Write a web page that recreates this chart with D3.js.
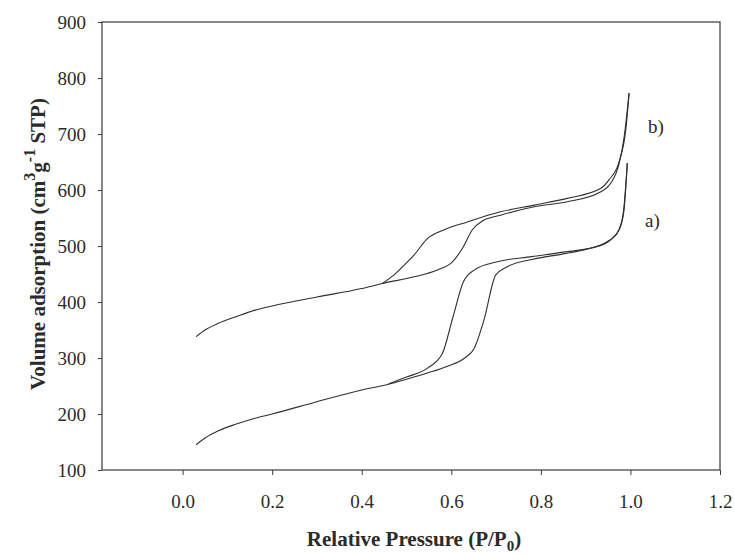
<!DOCTYPE html>
<html>
<head>
<meta charset="utf-8">
<script src="https://cdn.jsdelivr.net/npm/d3@7"></script>
<style>
  body { margin: 0; background: #fff; }
  text { font-family: "Liberation Serif", "Times New Roman", serif; fill: #2b2b2b; }
</style>
</head>
<body>
<svg id="chart" width="734" height="553"></svg>
<script>
// sample a) adsorption / desorption branches
var aAdsP = [0.03,0.05,0.08,0.12,0.16,0.2,0.3,0.4,0.46,0.5,0.55,0.59,0.63,0.651,0.673,0.699,0.725,0.78,0.85,0.9,0.949,0.974,0.985,0.993];
var aAdsV = [145,157,170,182,192,200,222,243,253,262,274,285,300,317,368,448,463,476,486,494,508,528,560,648];
var aDesP = [0.46,0.5,0.547,0.58,0.603,0.627,0.651,0.703,0.78,0.85,0.926,0.956,0.975,0.985,0.993];
var aDesV = [254,266,282,308,371,436,457,472,481,489,499,511,530,565,648];

// sample b)
var bAdsP = [0.03,0.05,0.08,0.12,0.16,0.2,0.3,0.4,0.446,0.517,0.569,0.603,0.625,0.647,0.67,0.71,0.785,0.859,0.934,0.956,0.975,0.986,0.997];
var bAdsV = [338,350,362,374,385,393,409,424,433,445,457,472,496,529,545,555,570,579,597,612,648,695,773];
var bDesP = [0.446,0.47,0.495,0.517,0.545,0.584,0.636,0.71,0.785,0.859,0.934,0.952,0.975,0.99,0.997];
var bDesV = [433,447,466,484,512,529,543,561,573,585,603,618,651,710,773];

var xTicks = [0, 0.2, 0.4, 0.6, 0.8, 1.0, 1.2];
var yTicks = [100, 200, 300, 400, 500, 600, 700, 800, 900];

var svg = d3.select("#chart");
var pLeft = 102, pRight = 720, pTop = 22, pBottom = 470;

var x = d3.scaleLinear().domain([-0.18, 1.2]).range([pLeft, pRight]);
var y = d3.scaleLinear().domain([100, 900]).range([pBottom, pTop]);

// frame
svg.append("rect")
    .attr("x", pLeft).attr("y", pTop)
    .attr("width", pRight - pLeft).attr("height", pBottom - pTop)
    .attr("fill", "none").attr("stroke", "#3a3a3a").attr("stroke-width", 1.2);

var xAxis = svg.append("g")
    .attr("transform", "translate(0," + pBottom + ")")
    .call(d3.axisBottom(x).tickValues(xTicks).tickFormat(d3.format(".1f")).tickSize(5).tickSizeOuter(0));
xAxis.select(".domain").remove();
xAxis.selectAll("line").attr("stroke", "#3a3a3a");
xAxis.selectAll("text")
    .attr("y", 38).attr("dy", null)
    .attr("font-size", 19)
    .attr("fill", "#2b2b2b");

var yAxis = svg.append("g")
    .attr("transform", "translate(" + pLeft + ",0)")
    .call(d3.axisLeft(y).tickValues(yTicks).tickSize(4).tickSizeOuter(0));
yAxis.select(".domain").remove();
yAxis.selectAll("line").attr("stroke", "#3a3a3a");
yAxis.selectAll("text")
    .attr("x", -16).attr("dy", "0.34em")
    .attr("font-size", 19)
    .attr("fill", "#2b2b2b");

var line = d3.line()
    .curve(d3.curveMonotoneX)
    .x(function(d) { return x(d[0]); })
    .y(function(d) { return y(d[1]); });

var branches = [[aAdsP, aAdsV], [aDesP, aDesV], [bAdsP, bAdsV], [bDesP, bDesV]];
branches.forEach(function(b) {
    var pts = b[0].map(function(p, i) { return [p, b[1][i]]; });
    svg.append("path")
        .datum(pts)
        .attr("d", line)
        .attr("fill", "none")
        .attr("stroke", "#2f2f2f")
        .attr("stroke-width", 1.1)
        .attr("stroke-linejoin", "round");
});

// sample labels
svg.append("text").attr("x", 648).attr("y", 133).attr("font-size", 19).text("b)");
svg.append("text").attr("x", 645).attr("y", 227).attr("font-size", 19).text("a)");

// axis titles
var xt = svg.append("text")
    .attr("x", 414).attr("y", 546)
    .attr("text-anchor", "middle")
    .attr("font-size", 21).attr("font-weight", "bold");
xt.append("tspan").text("Relative Pressure (P/P");
xt.append("tspan").attr("font-size", 15).attr("dy", 5).text("0");
xt.append("tspan").attr("dy", -5).text(")");

var yt = svg.append("text")
    .attr("transform", "translate(45,244) rotate(-90)")
    .attr("text-anchor", "middle")
    .attr("font-size", 21).attr("font-weight", "bold");
yt.append("tspan").text("Volume adsorption (cm");
yt.append("tspan").attr("font-size", 16).attr("dy", -10).text("3");
yt.append("tspan").attr("dy", 10).text("g");
yt.append("tspan").attr("font-size", 16).attr("dy", -10).text("-1");
yt.append("tspan").attr("dy", 10).text(" STP)");
</script>
</body>
</html>
